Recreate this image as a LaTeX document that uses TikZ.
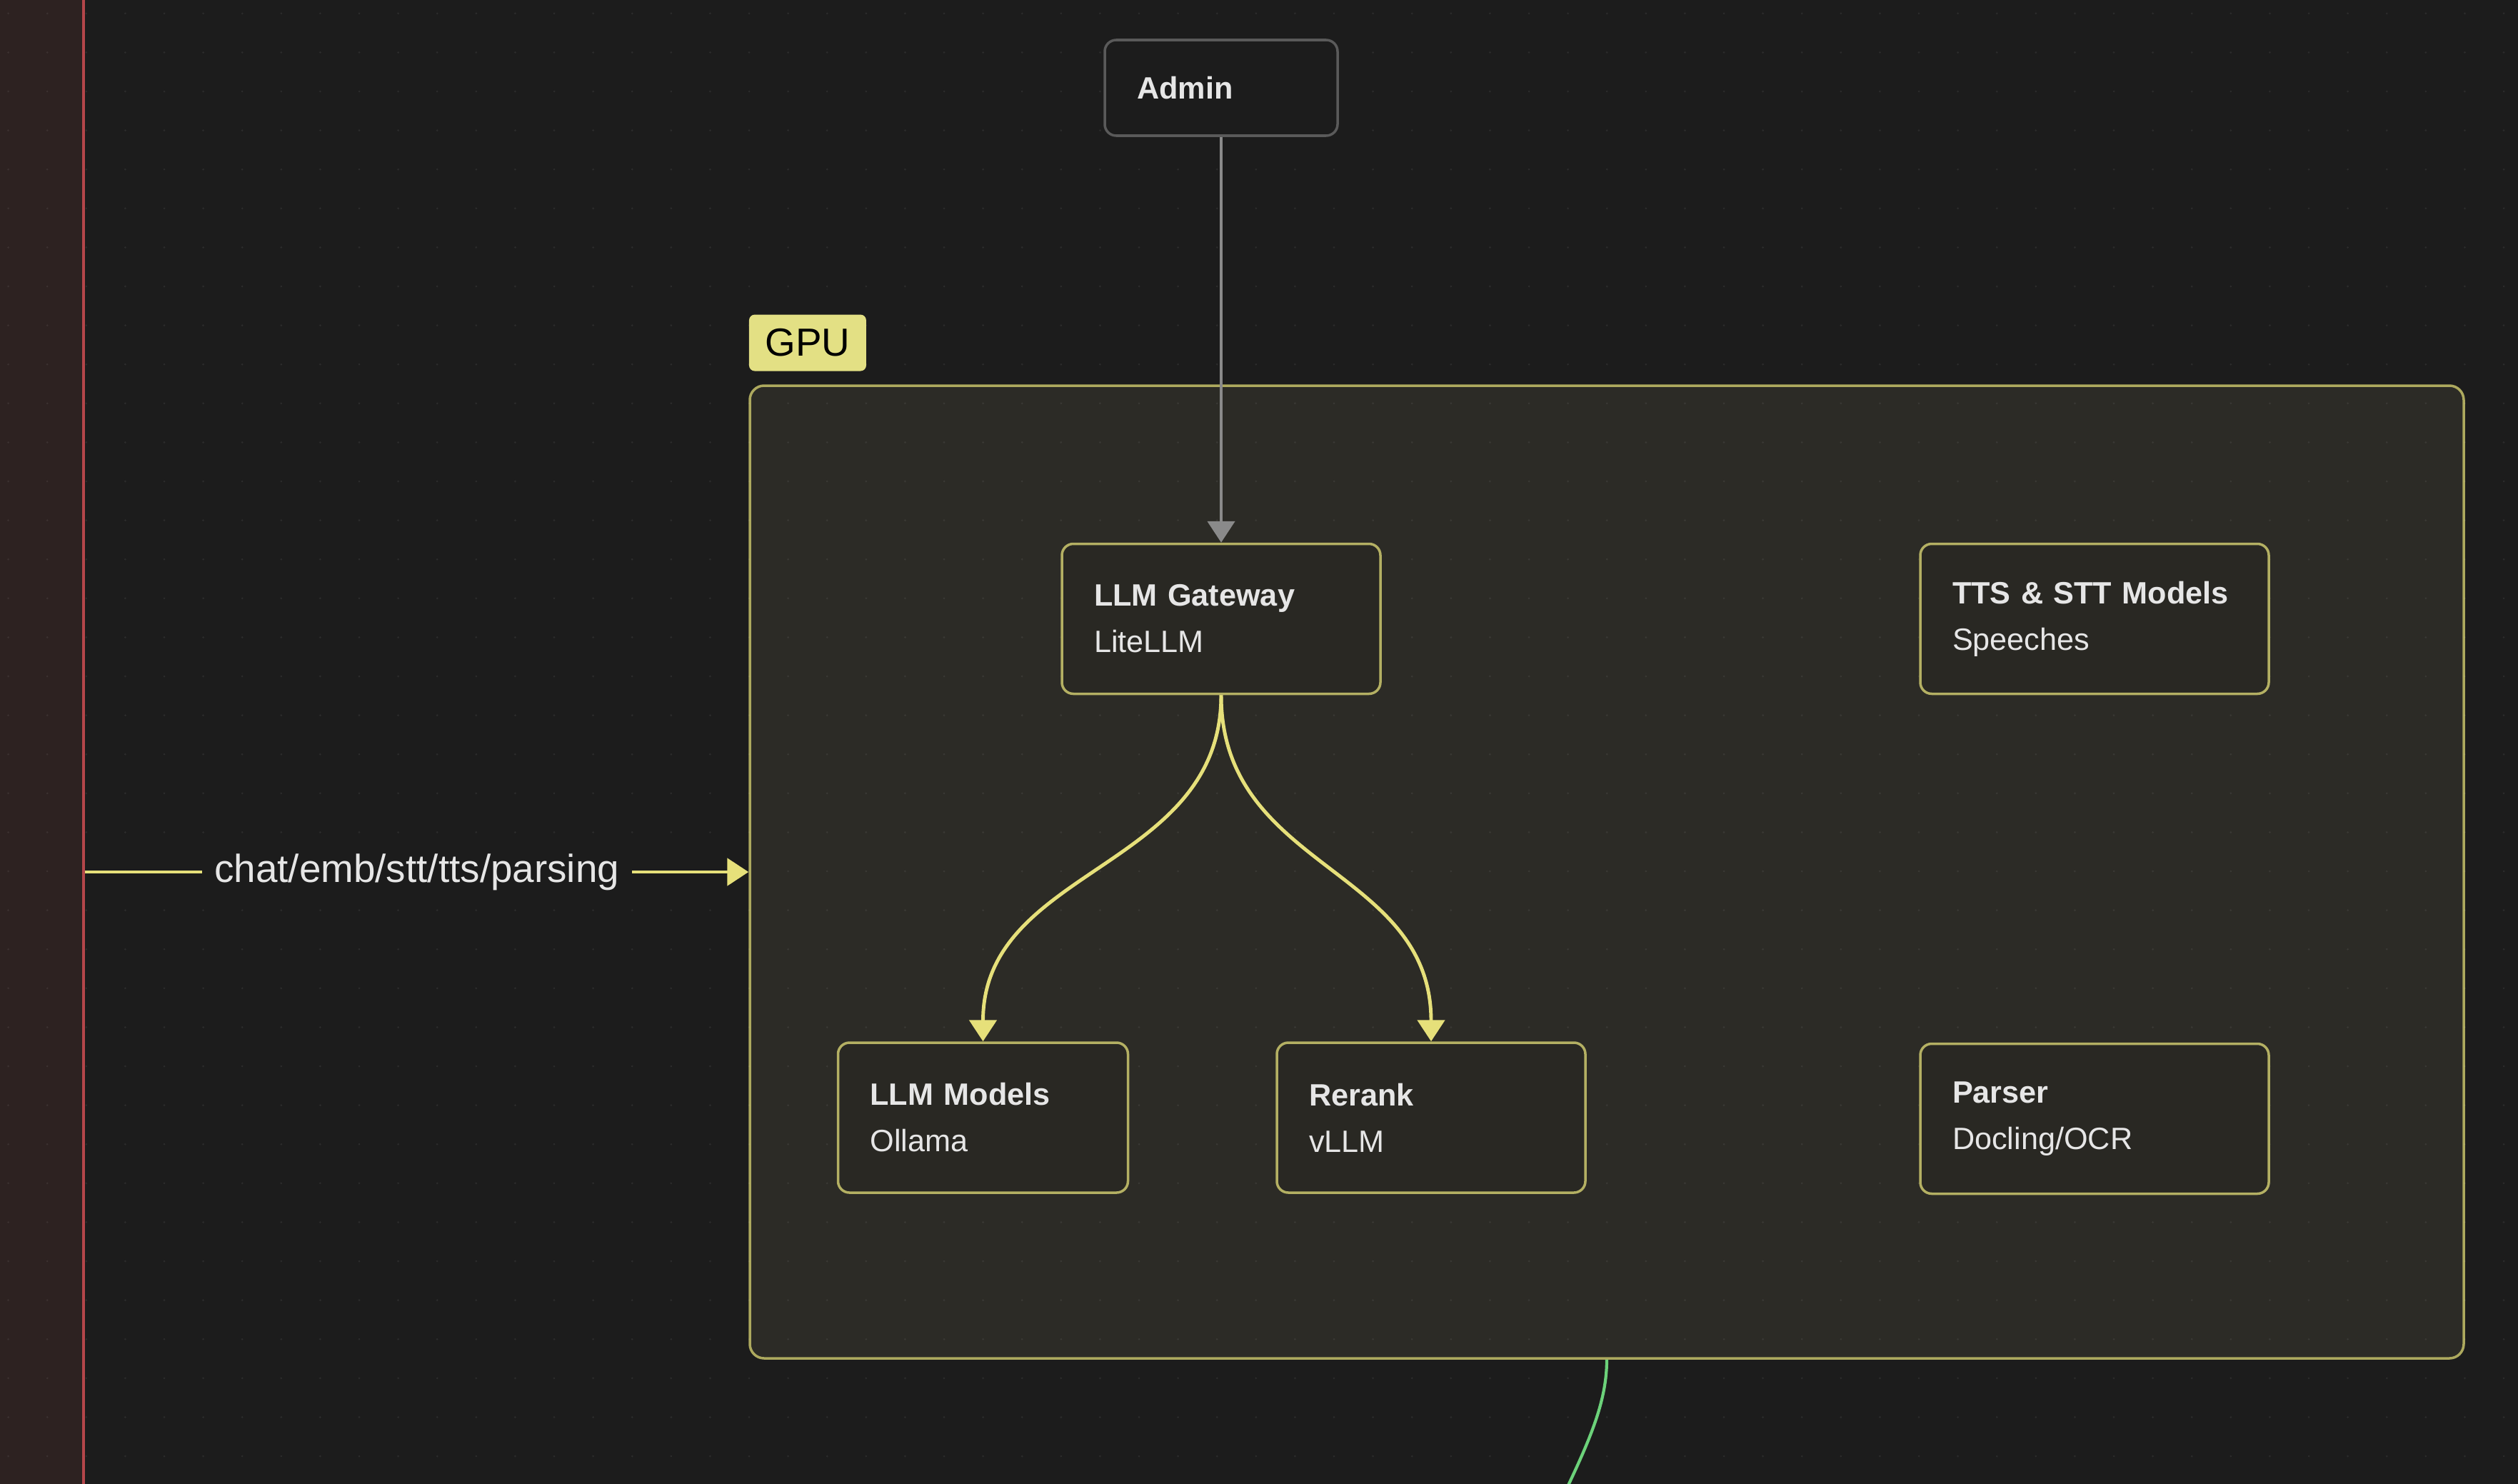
\documentclass[tikz,border=0pt]{standalone}
\usepackage{fontspec}
\setmainfont{Liberation Sans}
\usetikzlibrary{arrows.meta,positioning}

\definecolor{canvasbg}{HTML}{1C1C1C}
\definecolor{stripbg}{HTML}{2D2221}
\definecolor{stripline}{HTML}{B4464A}
\definecolor{gpufill}{HTML}{2C2B26}
\definecolor{gpuline}{HTML}{ADA95E}
\definecolor{tagfill}{HTML}{E3E084}
\definecolor{boxfill}{HTML}{292823}
\definecolor{boxline}{HTML}{B4B063}
\definecolor{txt}{HTML}{E6E6E6}
\definecolor{flow}{HTML}{E6E07A}
\definecolor{admline}{HTML}{8A8A8A}
\definecolor{admedge}{HTML}{5A5A5A}
\definecolor{linkgreen}{HTML}{6CD27A}

\begin{document}
\begin{tikzpicture}[
    svcbox/.style={rectangle, draw=boxline, line width=1pt, fill=boxfill, rounded corners=0.16cm, minimum height=2.1cm, inner xsep=0.45cm, text width=#1, align=left, text=txt, font=\fontsize{12.3}{18.5}\selectfont},
    admbox/.style={rectangle, draw=admedge, line width=1pt, fill=canvasbg, rounded corners=0.16cm, minimum height=1.34cm, inner xsep=0.45cm, text width=2.36cm, align=left, text=txt, font=\bfseries\fontsize{12.3}{18.5}\selectfont},
    groupbox/.style={rectangle, draw=gpuline, line width=1pt, fill=gpufill, rounded corners=0.2cm, minimum width=24cm, minimum height=13.62cm},
    gputag/.style={rectangle, fill=tagfill, rounded corners=0.08cm, minimum width=1.64cm, minimum height=0.79cm, inner sep=0pt, font=\fontsize{15.6}{18}\selectfont},
    stripbox/.style={rectangle, draw=stripline, line width=1pt, fill=stripbg, minimum width=2cm, minimum height=22cm},
    edgelbl/.style={fill=canvasbg, text=txt, inner xsep=5pt, font=\fontsize{15.6}{18}\selectfont},
    flowarr/.style={-{Triangle[width=10.8pt,length=8.5pt]}, draw=flow, line width=1.4pt},
    admarr/.style={-{Triangle[width=10.8pt,length=8.5pt]}, draw=admline, line width=1.3pt}
]
\path[use as bounding box] (0,0) rectangle (35.26,-20.78);
\clip (0,0) rectangle (35.26,-20.78);
\fill[canvasbg] (0,0) rectangle (35.26,-20.78);

% groups
\node[stripbox, anchor=north east] (app) at (1.19, 0.5) {};
\node[groupbox] (gpu) at (22.50, -12.21) {};

% dot grid
\foreach \i in {0,...,64}
  \foreach \j in {0,...,37}
    \fill[white, opacity=0.07] (0.116+0.546*\i, -0.188-0.546*\j) circle (0.015);

\node[gputag, above right=0.18cm and 0cm of gpu.north west] (gputag) {GPU};

\node[admbox] (admin) at (17.10, -1.23) {Admin};
\node[svcbox=3.56cm] (gw) at (17.10, -8.665) {\textbf{LLM Gateway}\\LiteLLM};
\node[svcbox=3.98cm] (tts) at (29.33, -8.665) {\textbf{TTS \& STT Models}\\Speeches};
\node[svcbox=3.16cm] (llm) at (13.765, -15.65) {\textbf{LLM Models}\\Ollama};
\node[svcbox=3.42cm] (rerank) at (20.04, -15.65) {\textbf{Rerank}\\vLLM};
\node[svcbox=3.98cm] (parser) at (29.33, -15.665) {\textbf{Parser}\\Docling/OCR};

\draw[admarr] (admin) -- (gw);
\draw[flowarr] (gw.south) .. controls +(0,-2.45) and +(0,2.45) .. (llm.north);
\draw[flowarr] (gw.south) .. controls +(0,-2.45) and +(0,2.45) .. (rerank.north);
\draw[flowarr] (app.east |- gpu.west) -- node[edgelbl] {chat/emb/stt/tts/parsing} (gpu.west);

\coordinate (below) at (21.72, -21.3);
\draw[linkgreen, line width=1.2pt] (gpu.south) .. controls (22.50, -19.7) and (22.2, -20.3) .. (below);
\end{tikzpicture}
\end{document}
